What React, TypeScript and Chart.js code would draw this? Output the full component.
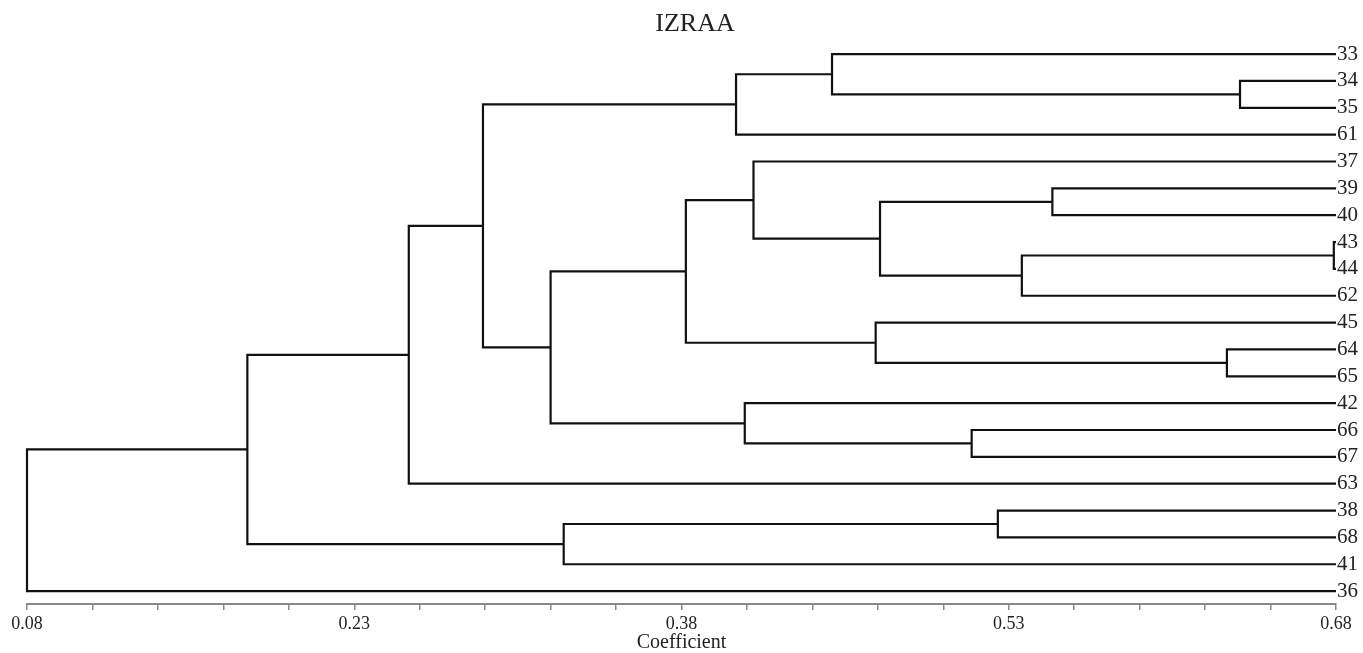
import { useEffect, useRef } from 'react';
import { Chart, registerables } from 'chart.js';

Chart.register(...registerables);

// Leaves, top to bottom
const LEAVES = ['33', '34', '35', '61', '37', '39', '40', '43', '44', '62', '45', '64', '65', '42', '66', '67', '63', '38', '68', '41', '36'];
// Linkage: ids 0..20 are leaves (index in LEAVES); merge i gets id 21 + i
const MERGE_LEFT = [7, 1, 11, 5, 21, 17, 14, 24, 10, 0, 4, 13, 30, 31, 26, 34, 33, 37, 38, 39];
const MERGE_RIGHT = [8, 2, 12, 6, 9, 18, 15, 25, 23, 22, 28, 27, 3, 29, 19, 32, 36, 16, 35, 20];
const MERGE_COEF = [0.679, 0.636, 0.630, 0.550, 0.536, 0.525, 0.513, 0.471, 0.469, 0.449, 0.413, 0.409, 0.405, 0.382, 0.326, 0.320, 0.289, 0.255, 0.181, 0.080];
const LEAF_COEF = 0.68;

const X_MIN = 0.08;
const X_MAX = 0.68;
const X_TICKS = [0.08, 0.11, 0.14, 0.17, 0.2, 0.23, 0.26, 0.29, 0.32, 0.35, 0.38, 0.41, 0.44, 0.47, 0.5, 0.53, 0.56, 0.59, 0.62, 0.65, 0.68];
const X_TICK_LABELS = ['0.08', '', '', '', '', '0.23', '', '', '', '', '0.38', '', '', '', '', '0.53', '', '', '', '', '0.68'];

const TITLE = 'IZRAA';
const X_TITLE = 'Coefficient';

function buildDatasets() {
  const nodes: { x: number; y: number }[] = LEAVES.map((_, i) => ({ x: LEAF_COEF, y: i }));
  const datasets: any[] = [];
  MERGE_COEF.forEach((h, i) => {
    const a = nodes[MERGE_LEFT[i]];
    const b = nodes[MERGE_RIGHT[i]];
    datasets.push({
      data: [
        { x: a.x, y: a.y },
        { x: h, y: a.y },
        { x: h, y: b.y },
        { x: b.x, y: b.y },
      ],
      showLine: true,
      borderColor: '#111',
      backgroundColor: '#111',
      borderWidth: 2.2,
      pointRadius: 0,
      tension: 0,
      borderJoinStyle: 'miter',
      clip: false,
    });
    nodes.push({ x: h, y: (a.y + b.y) / 2 });
  });
  return datasets;
}

export default function App() {
  const ref = useRef<HTMLCanvasElement | null>(null);
  useEffect(() => {
    if (!ref.current) return;
    const serif = 'Liberation Serif, Times New Roman, serif';
    const chart = new Chart(ref.current, {
      type: 'scatter',
      data: { datasets: buildDatasets() },
      options: {
        animation: false,
        responsive: true,
        maintainAspectRatio: false,
        devicePixelRatio: 1,
        layout: { padding: { left: 27, right: 0, top: 0, bottom: 0 } },
        plugins: {
          legend: { display: false },
          tooltip: { enabled: false },
          title: {
            display: true,
            text: TITLE,
            color: '#222',
            font: { family: serif, size: 26, weight: 'normal', lineHeight: 1 },
            padding: { top: 11, bottom: 1 },
          },
        },
        scales: {
          x: {
            type: 'linear',
            position: 'bottom',
            min: X_MIN,
            max: X_MAX,
            afterBuildTicks: (scale: any) => {
              scale.ticks = X_TICKS.map((v) => ({ value: v }));
            },
            afterFit: (scale: any) => {
              scale.height = 49;
            },
            ticks: {
              autoSkip: false,
              maxRotation: 0,
              padding: 3,
              color: '#222',
              font: { family: serif, size: 18 },
              callback: (_v: any, idx: number) => X_TICK_LABELS[idx],
            },
            grid: {
              display: true,
              drawOnChartArea: false,
              drawTicks: true,
              tickLength: 6,
              color: '#888',
              lineWidth: 1.5,
            },
            border: { display: true, color: '#888', width: 2 },
            title: {
              display: true,
              text: X_TITLE,
              color: '#222',
              font: { family: serif, size: 20, lineHeight: 1 },
              padding: { top: 0, bottom: 0 },
            },
          },
          y: {
            type: 'linear',
            position: 'right',
            reverse: true,
            min: -0.6,
            max: 20.48,
            afterBuildTicks: (scale: any) => {
              scale.ticks = LEAVES.map((_, i) => ({ value: i }));
            },
            afterFit: (scale: any) => {
              scale.width = 27;
            },
            ticks: {
              autoSkip: false,
              padding: 1,
              color: '#222',
              font: { family: serif, size: 21 },
              callback: (_v: any, idx: number) => LEAVES[idx],
            },
            grid: { display: false, drawTicks: false, tickLength: 0 },
            border: { display: false },
          },
        },
      } as any,
    });
    return () => chart.destroy();
  }, []);
  return (
    <div style={{ position: 'absolute', left: 0, top: 0, width: 1363, height: 653, background: '#fff' }}>
      <canvas ref={ref} />
    </div>
  );
}
